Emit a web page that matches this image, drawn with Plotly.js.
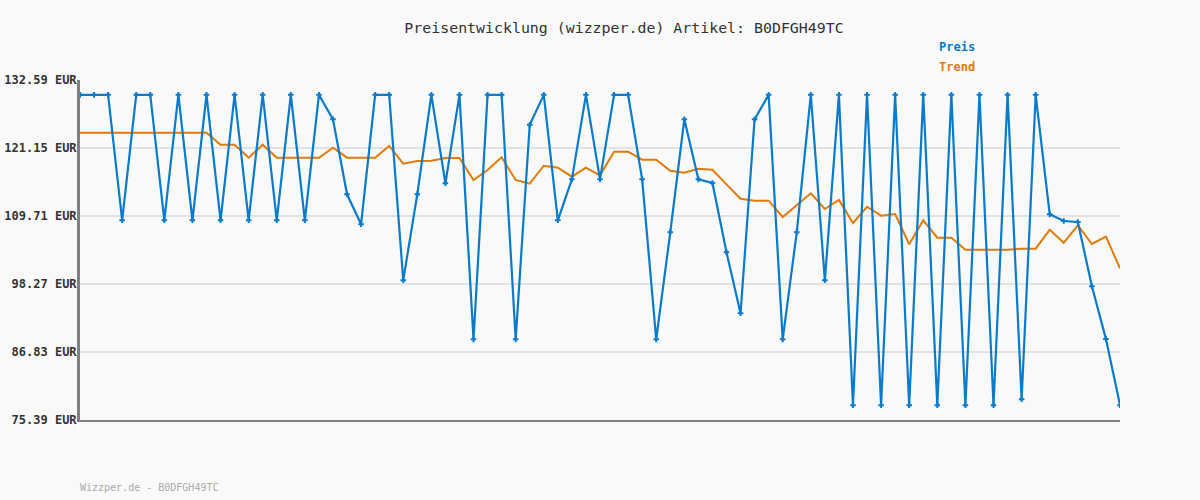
<!DOCTYPE html>
<html>
<head>
<meta charset="utf-8">
<script src="https://cdn.plot.ly/plotly-3.0.1.min.js"></script>
<style>
html,body{margin:0;padding:0;background:#f9f9f9;}
#chart{width:1200px;height:500px;}
</style>
</head>
<body>
<div id="chart"></div>
<script>
const H = 130.09, L = 108.99, N = 77.89;
const preis = [
  H, H, H, L, H, H, L, H, L, H,
  L, H, L, H, L, H, L, H, 125.98, 113.36,
  108.31, H, H, 98.89, 113.36, H, 115.21, H, 88.96, H,
  H, 88.96, 125.07, H, L, 115.88, H, 115.88, H, H,
  115.88, 88.96, 106.97, 125.98, 115.88, 115.26, 103.6, 93.34, 125.98, H,
  88.96, 106.97, H, 98.89, H, N, H, N, H, N,
  H, N, H, N, H, N, H, 78.87, H, 109.99,
  108.87, 108.7, 97.88, 89.0, N
];
const trend = [
  123.73, 123.73, 123.73, 123.73, 123.73, 123.73, 123.73, 123.73, 123.73, 123.73,
  121.71, 121.71, 119.52, 121.71, 119.52, 119.52, 119.52, 119.52, 121.2, 119.52,
  119.52, 119.52, 121.49, 118.51, 118.96, 119.0, 119.47, 119.47, 115.77, 117.45,
  119.58, 115.77, 115.14, 118.17, 117.84, 116.32, 117.84, 116.55, 120.53, 120.53,
  119.18, 119.18, 117.33, 116.99, 117.67, 117.5, 115.04, 112.62, 112.28, 112.28,
  109.54, 111.51, 113.53, 110.89, 112.4, 108.53, 111.27, 109.76, 110.05, 104.95,
  108.99, 106.06, 106.06, 104.04, 104.04, 104.04, 104.04, 104.21, 104.21, 107.41,
  105.22, 108.15, 105.0, 106.23, 100.91
];
const xIdx = preis.map((_, i) => i);
const tickVals = [75.39, 86.83, 98.27, 109.71, 121.15, 132.59];
const tickText = ["75.39 EUR", "86.83 EUR", "98.27 EUR", "109.71 EUR", "121.15 EUR", "132.59 EUR"];
const titleText = "Preisentwicklung (wizzper.de) Artikel: B0DFGH49TC";
const footerText = "Wizzper.de - B0DFGH49TC";
const seriesNames = ["Preis", "Trend"];

const BLUE = "#0a7acb", ORANGE = "#e07b0a";
const MONO = "DejaVu Sans Mono, monospace";

const data = [
  {
    x: xIdx, y: trend, type: "scatter", mode: "lines", name: seriesNames[1],
    line: {color: ORANGE, width: 2}
  },
  {
    x: xIdx, y: preis, type: "scatter", mode: "lines+markers", name: seriesNames[0],
    line: {color: BLUE, width: 2.2},
    marker: {symbol: "cross-thin-open", size: 4, line: {color: BLUE, width: 2}}
  }
];

const layout = {
  width: 1200, height: 500,
  paper_bgcolor: "#f9f9f9", plot_bgcolor: "#f9f9f9",
  margin: {l: 80, r: 80, t: 80, b: 80},
  showlegend: false,
  title: {text: titleText, x: 0.52, xanchor: "center", y: 0.944, yanchor: "middle",
          font: {family: MONO, size: 14.9, color: "#333"}},
  xaxis: {range: [0, xIdx.length - 1], showticklabels: false, showgrid: false, zeroline: false,
          showline: true, linecolor: "#808080", linewidth: 2, ticks: ""},
  yaxis: {range: [75.39, 132.59], tickvals: tickVals, ticktext: tickText,
          showgrid: true, gridcolor: "#e2e2e2", gridwidth: 2, zeroline: false,
          showline: true, linecolor: "#808080", linewidth: 3, ticks: "",
          ticklabelstandoff: -2,
          tickfont: {family: MONO, size: 12, color: "#333", weight: "bold"}},
  annotations: [
    {text: "<b>" + seriesNames[0] + "</b>", showarrow: false, font: {family: MONO, size: 12, color: BLUE}},
    {text: "<b>" + seriesNames[1] + "</b>", showarrow: false, font: {family: MONO, size: 12, color: ORANGE}},
    {text: footerText, showarrow: false, font: {family: MONO, size: 10, color: "#aaaaaa"}}
  ]
};
// position annotations in paper coords (plot area 80..1120 x, 80..420 y)
function px(x){ return (x - 80) / 1040; }
function py(y){ return (420 - y) / 340; }
layout.annotations[0].x = px(937); layout.annotations[0].y = py(47);
layout.annotations[1].x = px(937); layout.annotations[1].y = py(67);
layout.annotations[2].x = px(78);  layout.annotations[2].y = py(487);
layout.annotations.forEach(a => { a.xref = "paper"; a.yref = "paper"; a.xanchor = "left"; a.yanchor = "middle"; });

Plotly.newPlot("chart", data, layout, {displayModeBar: false, staticPlot: true});
</script>
</body>
</html>
